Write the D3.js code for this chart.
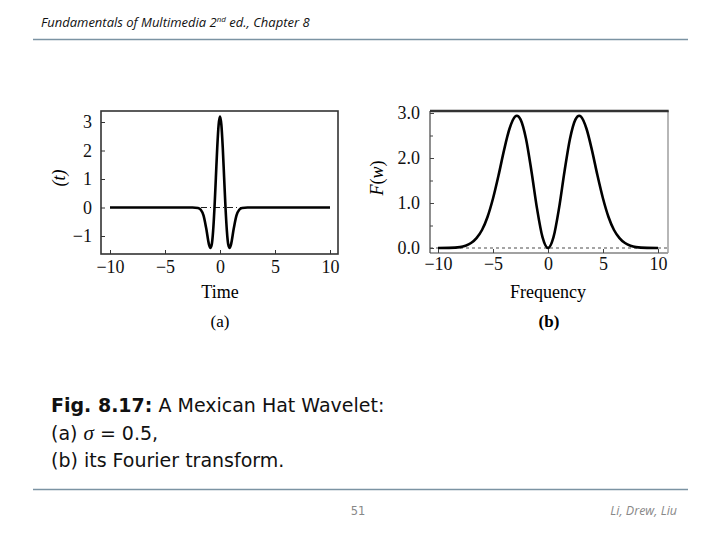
<!DOCTYPE html>
<html><head><meta charset="utf-8">
<script src="https://cdn.jsdelivr.net/npm/d3@7"></script>
<style>
body{margin:0;background:#fff;}
svg{display:block;}
</style></head>
<body>
<script>
// ---- data ----
const timeValues = [-10,-3,-2.5,-2,-1.75,-1.5,-1.25,-1,-0.875,-0.75,-0.625,-0.5,-0.375,-0.25,-0.125,0,0.125,0.25,0.375,0.5,0.625,0.75,0.875,1,1.25,1.5,1.75,2,2.5,3,10];
const psiValues  = [0,0,0,-0.02,-0.08,-0.28,-0.74,-1.30,-1.42,-1.30,-0.82,0,1.05,2.11,2.90,3.19,2.90,2.11,1.05,0,-0.82,-1.30,-1.42,-1.30,-0.74,-0.28,-0.08,-0.02,0,0,0];
const freqValues = [-10,-9,-8,-7.5,-7,-6.5,-6,-5.5,-5,-4.5,-4,-3.5,-3,-2.83,-2.5,-2,-1.5,-1,-0.5,0,0.5,1,1.5,2,2.5,2.83,3,3.5,4,4.5,5,5.5,6,6.5,7,7.5,8,9,10];
const fValues    = [0,0.003,0.02,0.05,0.11,0.22,0.40,0.69,1.10,1.61,2.17,2.65,2.92,2.94,2.86,2.43,1.70,0.88,0.24,0,0.24,0.88,1.70,2.43,2.86,2.94,2.92,2.65,2.17,1.61,1.10,0.69,0.40,0.22,0.11,0.05,0.02,0.003,0];
const xTicks = [-10,-5,0,5,10];
const psiTicks = [-1,0,1,2,3];
const fTicks = [0,1,2,3];
const fMinorTicks = [0.5,1.5,2.5];

const W=720,H=540;
const svg=d3.select("body").append("svg").attr("width",W).attr("height",H);
const serif="'Liberation Serif','Times New Roman',serif";

// header
svg.append("text").attr("x",41).attr("y",27)
  .attr("font-family","'Open Sans',sans-serif").attr("font-style","italic").attr("font-size",13)
  .attr("fill","#111")
  .html('Fundamentals of Multimedia 2<tspan dy="-5" font-size="8">nd</tspan><tspan dy="5"> ed., Chapter 8</tspan>');
svg.append("line").attr("x1",33).attr("x2",688).attr("y1",39.5).attr("y2",39.5).attr("stroke","#7b93a3").attr("stroke-width",1.3);

// ---------- panel (a) ----------
const ax = d3.scaleLinear().domain([-10,10]).range([110,330]);
const ay = d3.scaleLinear().domain([-1,3]).range([236,122]);
const ga = svg.append("g");
ga.append("line").attr("x1",ax(-10)).attr("x2",ax(10)).attr("y1",ay(0)).attr("y2",ay(0))
  .attr("stroke","#222").attr("stroke-width",1).attr("stroke-dasharray","6,3,1,3");
ga.append("path").datum(timeValues.map((t,i)=>[t,psiValues[i]]))
  .attr("fill","none").attr("stroke","#000").attr("stroke-width",2.6)
  .attr("d",d3.line().x(d=>ax(d[0])).y(d=>ay(d[1])).curve(d3.curveMonotoneX));
ga.append("rect").attr("x",101).attr("y",111).attr("width",237).attr("height",143)
  .attr("fill","none").attr("stroke","#333").attr("stroke-width",1.6);
const aY = ga.append("g").attr("transform","translate(101,0)")
  .call(d3.axisLeft(ay).tickValues(psiTicks).tickSizeInner(-4).tickSizeOuter(0).tickPadding(9).tickFormat(d3.format("d")));
const aX = ga.append("g").attr("transform","translate(0,254)")
  .call(d3.axisBottom(ax).tickValues(xTicks).tickSizeInner(-4).tickSizeOuter(0).tickPadding(6).tickFormat(d3.format("d")));
[aY,aX].forEach(g=>{g.select(".domain").remove();g.selectAll("text").attr("font-family",serif).attr("font-size",18).attr("fill","#111");g.selectAll("line").attr("stroke","#333");});
svg.append("text").attr("transform","translate(65,178) rotate(-90)").attr("text-anchor","middle")
  .attr("font-family",serif).attr("font-size",18).attr("font-style","italic").text("(t)");
svg.append("text").attr("x",220).attr("y",298).attr("text-anchor","middle").attr("font-family",serif).attr("font-size",18).text("Time");
svg.append("text").attr("x",220).attr("y",327).attr("text-anchor","middle").attr("font-family",serif).attr("font-size",17).text("(a)");

// ---------- panel (b) ----------
const bx = d3.scaleLinear().domain([-10,10]).range([438,658]);
const by = d3.scaleLinear().domain([0,3]).range([248,113]);
const gb = svg.append("g");
gb.append("line").attr("x1",430).attr("x2",668).attr("y1",by(0)).attr("y2",by(0))
  .attr("stroke","#888").attr("stroke-width",1.3).attr("stroke-dasharray","3,3");
gb.append("path").datum(freqValues.map((w,i)=>[w,fValues[i]]))
  .attr("fill","none").attr("stroke","#000").attr("stroke-width",2.6)
  .attr("d",d3.line().x(d=>bx(d[0])).y(d=>by(d[1])).curve(d3.curveMonotoneX));
gb.append("line").attr("x1",430).attr("x2",430).attr("y1",111).attr("y2",253).attr("stroke","#444").attr("stroke-width",1.2);
gb.append("line").attr("x1",430).attr("x2",668).attr("y1",253).attr("y2",253).attr("stroke","#444").attr("stroke-width",1.2);
gb.append("line").attr("x1",668).attr("x2",668).attr("y1",111).attr("y2",253).attr("stroke","#999").attr("stroke-width",1.4);
gb.append("line").attr("x1",430).attr("x2",668.7).attr("y1",111).attr("y2",111).attr("stroke","#333").attr("stroke-width",2.4);
const bY = gb.append("g").attr("transform","translate(430,0)")
  .call(d3.axisLeft(by).tickValues(fTicks).tickSizeInner(-4).tickSizeOuter(0).tickPadding(10).tickFormat(d3.format(".1f")));
const bYm = gb.append("g").attr("transform","translate(430,0)")
  .call(d3.axisLeft(by).tickValues(fMinorTicks).tickSizeInner(-3).tickSizeOuter(0).tickFormat(""));
const bX = gb.append("g").attr("transform","translate(0,253)")
  .call(d3.axisBottom(bx).tickValues(xTicks).tickSizeInner(-4).tickSizeOuter(0).tickPadding(4).tickFormat(d3.format("d")));
[bY,bYm,bX].forEach(g=>{g.select(".domain").remove();g.selectAll("text").attr("font-family",serif).attr("font-size",18).attr("fill","#111");g.selectAll("line").attr("stroke","#444");});
svg.append("text").attr("transform","translate(383,178) rotate(-90)").attr("text-anchor","middle")
  .attr("font-family",serif).attr("font-size",18)
  .html('<tspan font-style="italic">F</tspan>(<tspan font-style="italic">w</tspan>)');
svg.append("text").attr("x",548).attr("y",298).attr("text-anchor","middle").attr("font-family",serif).attr("font-size",18).text("Frequency");
svg.append("text").attr("x",549).attr("y",327).attr("text-anchor","middle").attr("font-family",serif).attr("font-size",17).attr("font-weight","bold").text("(b)");

// caption
const cap = svg.append("g").attr("font-family","'DejaVu Sans',sans-serif").attr("font-size",19).attr("fill","#111");
cap.append("text").attr("x",51).attr("y",412)
  .html('<tspan font-weight="bold">Fig. 8.17:</tspan> A Mexican Hat Wavelet:');
cap.append("text").attr("x",51).attr("y",440)
  .html('(a) <tspan font-style="italic" font-family="\'Liberation Serif\',serif" font-size="21">σ</tspan> = 0.5,');
cap.append("text").attr("x",51).attr("y",467).text("(b) its Fourier transform.");

// footer
svg.append("line").attr("x1",33).attr("x2",688).attr("y1",489.5).attr("y2",489.5).attr("stroke","#7b93a3").attr("stroke-width",1.3);
svg.append("text").attr("x",358).attr("y",515).attr("text-anchor","middle").attr("font-family","'DejaVu Sans',sans-serif").attr("font-size",11.5).attr("fill","#888").text("51");
svg.append("text").attr("x",677).attr("y",515).attr("text-anchor","end").attr("font-family","'Open Sans',sans-serif").attr("font-style","italic").attr("font-size",12.5).attr("fill","#888").text("Li, Drew, Liu");
</script>
</body></html>
